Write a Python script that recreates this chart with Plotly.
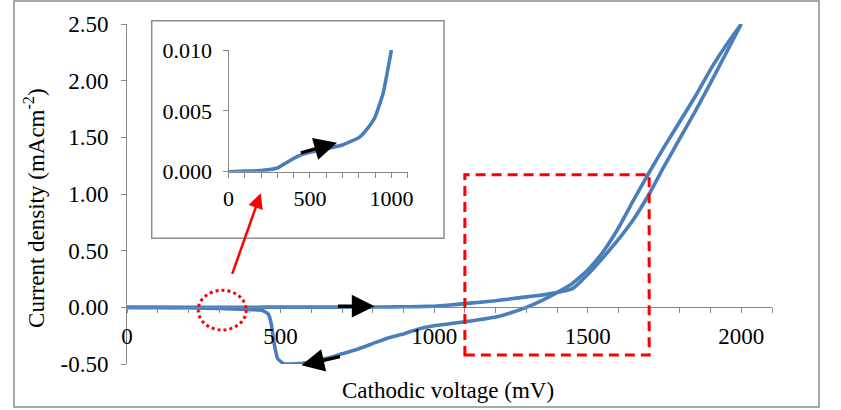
import plotly.graph_objects as go

# ---- data ----
fwd_v = [0, 100, 200, 300, 350, 400, 450, 500, 600, 700, 800, 850, 900, 950, 1000,
         1050, 1100, 1150, 1200, 1250, 1300, 1350, 1400, 1450, 1500, 1550, 1600,
         1650, 1700, 1750, 1800, 1850, 1900, 1950, 2000]
fwd_j = [0.0, 0.00005, 0.0001, 0.0003, 0.0007, 0.0011, 0.0014, 0.0016, 0.0019, 0.0022,
         0.0028, 0.0035, 0.0045, 0.0065, 0.010,
         0.020, 0.033, 0.045, 0.058, 0.075, 0.092, 0.108, 0.130, 0.165, 0.29, 0.44, 0.60,
         0.78, 1.00, 1.25, 1.49, 1.73, 1.98, 2.24, 2.50]

rev_v = [2000, 1950, 1900, 1850, 1800, 1750, 1700, 1650, 1600, 1550, 1500, 1450, 1400,
         1350, 1300, 1250, 1200, 1150, 1100, 1050, 1000, 950, 900, 850, 800, 750, 700,
         650, 600, 560, 510, 490, 478, 470, 460, 440, 390, 300, 200, 100, 0]
rev_j = [2.50, 2.31, 2.10, 1.86, 1.64, 1.42, 1.19, 0.95, 0.70, 0.49, 0.33, 0.21, 0.13,
         0.06, 0.0, -0.048, -0.086, -0.108, -0.128, -0.145, -0.162, -0.19, -0.235, -0.27,
         -0.32, -0.37, -0.41, -0.45, -0.48, -0.497, -0.497, -0.45, -0.30, -0.15, -0.06,
         -0.026, -0.018, -0.01, -0.004, -0.002, 0.0]

inset_v = [v for v in fwd_v if v <= 1000]
inset_j = fwd_j[:len(inset_v)]

main_x_ticks = [0, 500, 1000, 1500, 2000]
main_y_ticks = [-0.5, 0.0, 0.5, 1.0, 1.5, 2.0, 2.5]
main_y_labels = ["-0.50", "0.00", "0.50", "1.00", "1.50", "2.00", "2.50"]
ins_x_ticks = [0, 500, 1000]
ins_y_ticks = [0.0, 0.005, 0.010]
ins_y_labels = ["0.000", "0.005", "0.010"]

BLUE = "#4a7ebb"
GRAY = "#868686"
FONT = "Times New Roman, Liberation Serif, serif"

fig = go.Figure()
line_style = dict(color=BLUE, width=3.6, shape="spline", smoothing=0.4)
fig.add_trace(go.Scatter(x=fwd_v, y=fwd_j, mode="lines", line=line_style,
                         showlegend=False, hoverinfo="skip"))
fig.add_trace(go.Scatter(x=rev_v, y=rev_j, mode="lines", line=line_style,
                         showlegend=False, hoverinfo="skip"))
fig.add_trace(go.Scatter(x=inset_v, y=inset_j, mode="lines", xaxis="x2", yaxis="y2",
                         line=line_style, showlegend=False, hoverinfo="skip"))

W, H = 841, 410
L, R, T, B = 127, 69, 24, 46

minor_ticks = dict(ticks="outside", ticklen=5, tickcolor=GRAY, tickwidth=1, dtick=100)


def axis_style(size):
    return dict(showgrid=False, zeroline=False, showline=True, linecolor=GRAY,
                linewidth=1, ticks="outside", ticklen=5, tickcolor=GRAY, tickwidth=1,
                tickfont=dict(family=FONT, size=size, color="black"))


fig.update_layout(
    width=W, height=H,
    margin=dict(l=L, r=R, t=T, b=B),
    paper_bgcolor="white", plot_bgcolor="white",
    font=dict(family=FONT, color="black"),
    xaxis=dict(range=[0, 2100], tickmode="array", tickvals=main_x_ticks,
               anchor="free", position=1/6, domain=[0, 1], ticklabelstandoff=3,
               minor=minor_ticks, **axis_style(23)),
    yaxis=dict(range=[-0.5, 2.5], tickmode="array", tickvals=main_y_ticks,
               ticktext=main_y_labels, domain=[0, 1], ticklabelstandoff=8,
               **axis_style(23)),
    xaxis2=dict(range=[0, 1100], tickmode="array", tickvals=ins_x_ticks,
                anchor="y2", domain=[0.1574, 0.4352], ticklabelstandoff=2,
                minor=minor_ticks, **axis_style(22)),
    yaxis2=dict(range=[0, 0.010], tickmode="array", tickvals=ins_y_ticks,
                ticktext=ins_y_labels, anchor="x2", domain=[0.5656, 0.9235],
                ticklabelstandoff=6, **axis_style(22)),
)

shapes = [
    # outer chart border
    dict(type="rect", xref="paper", yref="paper", x0=-0.1752, x1=1.0729,
         y0=-0.1265, y1=1.0676, line=dict(color="#8c8c8c", width=1.5)),
    # inset frame
    dict(type="rect", xref="paper", yref="paper", x0=0.0383, x1=0.4915,
         y0=0.3697, y1=1.0097, line=dict(color="#8c8c8c", width=1.5),
         fillcolor="white", layer="below"),
    # red dashed zoom rectangle
    dict(type="rect", xref="x", yref="y", x0=1100, x1=1700, y0=-0.42, y1=1.17,
         line=dict(color="#ff0000", width=3, dash="10px,6px")),
    # red dotted circle
    dict(type="circle", xref="x", yref="y", x0=232, x1=388, y0=-0.2, y1=0.15,
         line=dict(color="#ff0000", width=3, dash="dot")),
]
fig.update_layout(shapes=shapes)

annotations = [
    dict(text="Cathodic voltage (mV)", xref="paper", yref="paper", x=0.4977, y=-0.0765,
         xanchor="center", yanchor="middle", showarrow=False,
         font=dict(family=FONT, size=23, color="black")),
    dict(text="Current density (mAcm<sup>-2</sup>)", xref="paper", yref="paper",
         x=-0.1426, y=0.459, xanchor="center", yanchor="middle", textangle=-90,
         showarrow=False, font=dict(family=FONT, size=23, color="black")),
    # black arrows
    dict(x=806, y=0.01, ax=682, ay=0.01, xref="x", yref="y", axref="x", ayref="y",
         text="", showarrow=True, arrowhead=2, arrowsize=1.3, arrowwidth=3.5,
         arrowcolor="black"),
    dict(x=568, y=-0.512, ax=698, ay=-0.432, xref="x", yref="y", axref="x", ayref="y",
         text="", showarrow=True, arrowhead=2, arrowsize=1.3, arrowwidth=3.5,
         arrowcolor="black"),
    dict(x=666, y=0.00238, ax=435, ay=0.00151, xref="x2", yref="y2", axref="x2",
         ayref="y2", text="", showarrow=True, arrowhead=2, arrowsize=1.3,
         arrowwidth=3.5, arrowcolor="black"),
    # red arrow to the inset
    dict(x=0.2073, y=0.502, xref="paper", yref="paper", ax=-29, ay=82,
         text="", showarrow=True, arrowhead=2, arrowsize=1.2, arrowwidth=2.5,
         arrowcolor="#ff0000"),
]
fig.update_layout(annotations=annotations)

fig.write_html("out.html")
